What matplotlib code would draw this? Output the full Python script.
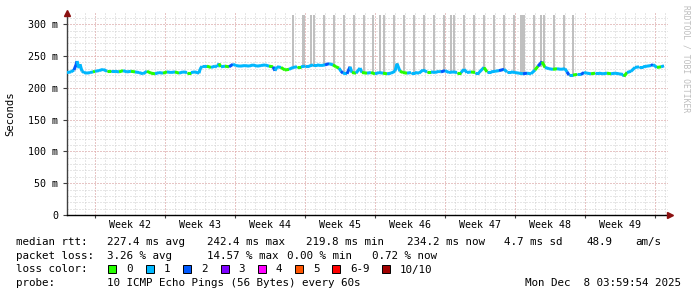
import numpy as np
import matplotlib
matplotlib.use('Agg')
import matplotlib.pyplot as plt
from matplotlib.collections import LineCollection
from matplotlib.patches import Rectangle

plt.rcParams['lines.scale_dashes'] = False
MONO = 'DejaVu Sans Mono'

# ---------------- data ----------------
# time in days since left edge of graph, median rtt in ms, loss count (of 10)
t_days = [0.0, 0.4, 0.7, 0.9, 1.0, 1.2, 1.3, 1.5, 1.7, 2.0, 2.3, 2.6, 2.8, 3.2, 3.6, 4.0,
          4.4, 4.8, 5.2, 5.6, 6.0, 6.4, 6.8, 7.2, 7.6, 8.0, 8.4, 8.8, 9.2, 9.6, 10.0, 10.4,
          10.8, 11.2, 11.6, 12.0, 12.4, 12.8, 13.2, 13.3, 13.5, 14.0, 14.4, 14.8, 15.0, 15.2,
          15.4, 15.8, 16.2, 16.6, 16.9, 17.3, 17.8, 18.2, 18.6, 19.0, 19.4, 19.8, 20.2, 20.6,
          20.8, 21.0, 21.4, 21.8, 22.2, 22.6, 23.0, 23.4, 23.8, 24.2, 24.6, 25.0, 25.4, 25.8,
          26.2, 26.6, 26.9, 27.2, 27.4, 27.6, 28.0, 28.3, 28.5, 28.9, 29.3, 29.5, 30.0, 30.4,
          30.8, 31.2, 31.6, 32.0, 32.4, 32.8, 33.0, 33.3, 33.6, 34.0, 34.4, 34.8, 35.2, 35.6,
          36.0, 36.4, 36.8, 37.2, 37.4, 37.8, 38.2, 38.6, 39.0, 39.4, 39.7, 40.0, 40.4, 40.8,
          41.2, 41.7, 42.0, 42.4, 42.8, 43.2, 43.7, 44.0, 44.4, 44.8, 45.2, 45.6, 46.0, 46.4,
          46.8, 47.1, 47.5, 47.8, 48.2, 48.6, 49.0, 49.4, 49.8, 50.0, 50.2, 50.6, 51.0, 51.4,
          51.7, 52.0, 52.4, 52.8, 53.2, 53.6, 54.0, 54.4, 54.8, 55.2, 55.6, 55.7, 56.0, 56.4,
          56.8, 57.2, 57.6, 58.0, 58.4, 58.6, 59.0, 59.4, 59.7]
rtt_ms = [224, 225, 228, 236, 242, 231, 237, 226, 224, 223, 224, 225, 226, 227, 229, 226,
          226, 226, 225, 227, 225, 226, 225, 224, 222, 226, 223, 222, 224, 223, 225, 224,
          225, 223, 225, 224, 224, 225, 223, 229, 234, 234, 232, 234, 233, 238,
          233, 234, 233, 237, 235, 234, 235, 234, 236, 234, 235, 236, 234, 233,
          227, 233, 232, 228, 229, 232, 233, 233, 234, 234, 236, 236, 235, 236,
          238, 236, 233, 231, 226, 223, 222, 233, 224, 223, 231, 224, 223, 224,
          222, 224, 223, 222, 223, 226, 238, 226, 224, 223, 224, 224, 223, 228,
          225, 225, 224, 226, 225, 227, 224, 225, 224, 224, 229, 224, 225, 224,
          224, 232, 225, 225, 226, 227, 229, 225, 225, 224, 223, 222, 223, 222,
          228, 234, 241, 232, 230, 229, 230, 229, 230, 225, 220, 220, 221, 221,
          224, 223, 222, 223, 223, 222, 223, 222, 223, 222, 221, 218, 224, 226,
          232, 233, 233, 234, 235, 236.5, 232, 233, 234.5]
loss = [1, 1, 1, 2, 2, 1, 1, 1, 1, 1, 1, 1, 0, 1, 1, 1,
        0, 1, 1, 0, 1, 1, 0, 1, 1, 1, 0, 0, 1, 1, 0, 1,
        1, 0, 1, 1, 0, 1, 1, 1, 1, 1, 0, 1, 1, 1,
        0, 1, 0, 2, 1, 1, 1, 1, 1, 1, 1, 1, 1, 0,
        2, 1, 1, 0, 0, 1, 1, 0, 1, 1, 1, 1, 1, 1,
        2, 1, 0, 0, 1, 2, 1, 2, 1, 0, 1, 1, 0, 1,
        0, 1, 1, 0, 1, 1, 1, 1, 0, 0, 1, 1, 1, 1,
        1, 0, 1, 1, 1, 2, 1, 1, 1, 0, 1, 1, 1, 0,
        1, 1, 0, 1, 1, 1, 2, 1, 1, 1, 1, 1, 2, 1,
        1, 0, 2, 0, 1, 1, 0, 1, 1, 1, 2, 1, 0, 1,
        2, 1, 1, 0, 1, 1, 1, 0, 1, 1, 1, 1, 0, 1,
        1, 1, 1, 1, 1, 2, 1, 0, 1]

# smoke (high-rtt ping spread) periods
smoke_start = [22.5, 23.5, 24.3, 24.6, 25.6, 26.6, 27.6, 28.6, 29.6, 30.5, 31.2, 31.6, 32.6,
               33.6, 34.6, 35.6, 36.6, 37.6, 38.3, 38.6, 39.6, 40.6, 41.6, 42.6, 43.6, 44.55,
               45.3, 46.6, 47.25, 47.6, 48.6, 49.6, 50.5]
smoke_end = [22.7, 23.8, 24.5, 24.8, 25.8, 26.8, 27.8, 28.8, 29.8, 30.7, 31.4, 31.8, 32.8,
             33.8, 34.8, 35.8, 36.8, 37.8, 38.5, 38.8, 39.8, 40.8, 41.8, 42.8, 43.8, 44.75,
             45.8, 46.8, 47.45, 47.8, 48.8, 49.8, 50.7]
smoke_lo = [230, 232, 233, 233, 235, 236, 225, 223, 224, 224, 222, 223, 224,
            224, 224, 226, 225, 226, 224, 224, 226, 224, 228, 225, 227, 224,
            223, 226, 233, 232, 229, 228, 221]
smoke_hi = [315] * 33

week_bounds = [2.8, 9.8, 16.8, 23.8, 30.8, 37.8, 44.8, 51.8, 58.8]
week_mid = [6.3, 13.3, 20.3, 27.3, 34.3, 41.3, 48.3, 55.3]
week_labels = ['Week 42', 'Week 43', 'Week 44', 'Week 45', 'Week 46', 'Week 47', 'Week 48', 'Week 49']

y_major = [0, 50, 100, 150, 200, 250, 300]
y_labels = ['0', '50 m', '100 m', '150 m', '200 m', '250 m', '300 m']

loss_colors = ['#26ff00', '#00b8ff', '#0059ff', '#7e00ff', '#ff00ff', '#ff5500', '#ff0000', '#a10000']
loss_names = ['0', '1', '2', '3', '4', '5', '6-9', '10/10']

stats_rtt = ['median rtt:', '227.4 ms avg', '242.4 ms max', '219.8 ms min', '234.2 ms now',
             '4.7 ms sd', '48.9', 'am/s']
stats_loss = ['packet loss:', '3.26 % avg', '14.57 % max', '0.00 % min', '0.72 % now']
probe_text = ['probe:', '10 ICMP Echo Pings (56 Bytes) every 60s']
date_text = 'Mon Dec  8 03:59:54 2025'

# ---------------- layout ----------------
W, H = 697, 297
fig = plt.figure(figsize=(W / 100, H / 100), dpi=100)
fig.patch.set_facecolor('white')


def fx(px):
    return px / W


def fy(py):
    return 1 - py / H


X0, X1, Y0, Y1 = 67, 668, 215, 13
ax = fig.add_axes([fx(X0), fy(Y0), (X1 - X0) / W, (Y0 - Y1) / H])
XMAX = 60.1
YMAX = (Y0 - Y1) / 0.636
ax.set_xlim(0, XMAX)
ax.set_ylim(0, YMAX)
ax.set_facecolor('white')

px_pt = 0.72
minor_c = '#cfcfcf'
major_c = '#e8a6a6'
dot = (0, (px_pt, 2 * px_pt))

# minor grid
for d in range(1, 61):
    ax.axvline(d - 0.2, color=minor_c, lw=px_pt, ls=dot, zorder=0)
for v in range(10, 320, 10):
    ax.axhline(v, color=minor_c, lw=px_pt, ls=dot, zorder=0)
# major grid
for wb in week_bounds:
    ax.axvline(wb, color=major_c, lw=px_pt, ls=dot, zorder=0.5)
for v in y_major[1:]:
    ax.axhline(v, color=major_c, lw=px_pt, ls=dot, zorder=0.5)

# smoke
sx = np.array(smoke_start)
sw = np.array(smoke_end) - sx
ax.bar(sx, np.array(smoke_hi) - np.array(smoke_lo), bottom=smoke_lo, width=sw,
       align='edge', color='#c0c0c0', edgecolor='none', zorder=1)

# median line coloured by loss
t = np.array(t_days)
r = np.array(rtt_ms)
pts = np.column_stack([t, r]).reshape(-1, 1, 2)
segs = np.concatenate([pts[:-1], pts[1:]], axis=1)
cols = [loss_colors[l] for l in loss[1:]]
ax.add_collection(LineCollection(segs, colors='#202020', linewidths=0.8, zorder=2))
ax.add_collection(LineCollection(segs, colors=cols, linewidths=2.2, zorder=3,
                                 capstyle='butt'))

# axes styling
for s in ['top', 'right']:
    ax.spines[s].set_visible(False)
ax.spines['left'].set_color('#404040')
ax.spines['bottom'].set_color('#000000')
ax.spines['left'].set_linewidth(1.0)
ax.spines['bottom'].set_linewidth(1.0)

ax.set_yticks(y_major)
ax.set_yticklabels(y_labels, fontfamily=MONO, fontsize=7.2)
ax.tick_params(axis='y', length=3, width=0.8, pad=3.5, color='#404040')

ax.set_xticks(week_bounds)
ax.set_xticklabels([''] * len(week_bounds))
ax.tick_params(axis='x', length=2, width=0.8, color='#404040')
ax.set_xticks(week_mid, minor=True)
ax.set_xticklabels(week_labels, minor=True, fontfamily=MONO, fontsize=7.2)
ax.tick_params(axis='x', which='minor', length=0, pad=3.5)

# arrows
ax.plot([0], [1], transform=ax.transAxes, marker='^', color='#8b1010', ms=4.2,
        clip_on=False, zorder=5)
ax.plot([1.003], [0], transform=ax.transAxes, marker='>', color='#8b1010', ms=4.2,
        clip_on=False, zorder=5)

# y label
fig.text(fx(10), fy(114), 'Seconds', rotation=90, ha='center', va='center',
         fontfamily=MONO, fontsize=7.6)
# watermark
fig.text(fx(686), fy(5), 'RRDTOOL / TOBI OETIKER', rotation=-90, ha='center', va='top',
         fontfamily=MONO, fontsize=5.8, color='#bdbdbd')

# ---------------- legend / stats ----------------
FS = 7.8
base = [245, 258.7, 272.5, 286.3]
rtt_x = [16, 107.3, 207.3, 306, 407.3, 504, 586.7, 635]
for s, x in zip(stats_rtt, rtt_x):
    fig.text(fx(x), fy(base[0]), s, fontfamily=MONO, fontsize=FS, va='baseline')
loss_x = [16, 107.3, 207.3, 286.7, 372.3]
for s, x in zip(stats_loss, loss_x):
    fig.text(fx(x), fy(base[1]), s, fontfamily=MONO, fontsize=FS, va='baseline')
fig.text(fx(16), fy(base[2]), 'loss color:', fontfamily=MONO, fontsize=FS, va='baseline')
box_x = [108, 145.5, 183, 220.5, 258, 295, 332, 381.7]
for c, n, bx in zip(loss_colors, loss_names, box_x):
    fig.patches.append(Rectangle((fx(bx), fy(273)), 8 / W, 8 / H, transform=fig.transFigure,
                                 facecolor=c, edgecolor='black', linewidth=0.7))
    fig.text(fx(bx + 18), fy(base[2]), n, fontfamily=MONO, fontsize=FS, va='baseline')
fig.text(fx(16), fy(base[3]), probe_text[0], fontfamily=MONO, fontsize=FS, va='baseline')
fig.text(fx(107.3), fy(base[3]), probe_text[1], fontfamily=MONO, fontsize=FS, va='baseline')
fig.text(fx(681), fy(base[3]), date_text, fontfamily=MONO, fontsize=FS, va='baseline',
         ha='right')

fig.savefig('out.png', dpi=100, facecolor='white')
